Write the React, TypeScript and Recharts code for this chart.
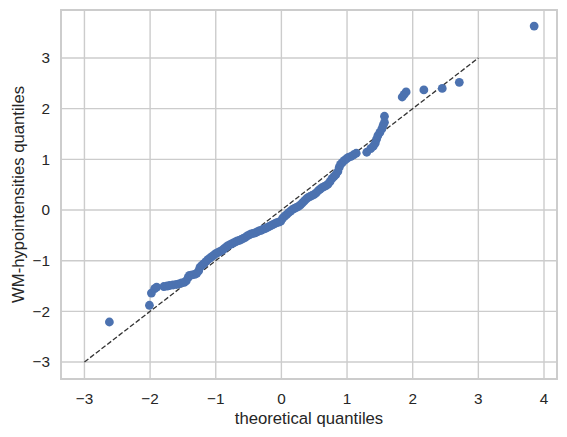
import React from "react";
import {
  ScatterChart,
  Scatter,
  XAxis,
  YAxis,
  CartesianGrid,
  ReferenceLine,
  ReferenceArea,
} from "recharts";

// theoretical normal quantiles (x) and sample quantiles (y)
const theoretical = [
  -2.62, -2.01, -1.98, -1.93, -1.9, -1.79, -1.74, -1.7, -1.65, -1.6, -1.56,
  -1.52, -1.48, -1.45, -1.42, -1.4, -1.36, -1.32, -1.29, -1.26, -1.24, -1.21,
  -1.18, -1.15, -1.12, -1.09, -1.06, -1.03, -1.0, -0.97, -0.94, -0.91, -0.88,
  -0.85, -0.82, -0.79, -0.76, -0.73, -0.7, -0.67, -0.64, -0.61, -0.58, -0.55,
  -0.52, -0.49, -0.46, -0.43, -0.4, -0.37, -0.34, -0.31, -0.28, -0.25, -0.22,
  -0.19, -0.16, -0.13, -0.1, -0.07, -0.04, -0.01, 0.02, 0.05, 0.08, 0.11, 0.14,
  0.17, 0.2, 0.23, 0.26, 0.29, 0.32, 0.35, 0.38, 0.41, 0.44, 0.47, 0.5, 0.53,
  0.56, 0.59, 0.62, 0.65, 0.68, 0.71, 0.74, 0.77, 0.8, 0.83, 0.86, 0.88, 0.9,
  0.93, 0.96, 0.99, 1.02, 1.06, 1.1, 1.14, 1.3, 1.36, 1.4, 1.43, 1.45, 1.47,
  1.5, 1.53, 1.55, 1.57, 1.57, 1.84, 1.87, 1.9, 2.17, 2.45, 2.71, 3.85,
];

const sample = [
  -2.21, -1.88, -1.64, -1.55, -1.52, -1.51, -1.5, -1.49, -1.48, -1.47, -1.46,
  -1.44, -1.43, -1.4, -1.33, -1.29, -1.28, -1.27, -1.25, -1.2, -1.13, -1.09,
  -1.06, -1.02, -0.98, -0.95, -0.92, -0.89, -0.86, -0.84, -0.82, -0.8, -0.77,
  -0.74, -0.71, -0.69, -0.67, -0.65, -0.63, -0.61, -0.6, -0.58, -0.56, -0.54,
  -0.51, -0.49, -0.47, -0.46, -0.45, -0.43, -0.41, -0.4, -0.38, -0.37, -0.35,
  -0.33, -0.31, -0.29, -0.27, -0.25, -0.24, -0.22, -0.16, -0.12, -0.09, -0.05,
  -0.02, 0.01, 0.03, 0.05, 0.07, 0.1, 0.14, 0.18, 0.22, 0.25, 0.27, 0.29, 0.31,
  0.34, 0.38, 0.41, 0.44, 0.46, 0.48, 0.51, 0.56, 0.62, 0.66, 0.7, 0.76, 0.84,
  0.9, 0.94, 0.98, 1.01, 1.04, 1.06, 1.09, 1.12, 1.14, 1.21, 1.26, 1.32, 1.4,
  1.47, 1.53, 1.6, 1.67, 1.73, 1.85, 2.23, 2.28, 2.33, 2.37, 2.4, 2.52, 3.63,
];

const xTicks = [-3, -2, -1, 0, 1, 2, 3, 4];
const yTicks = [-3, -2, -1, 0, 1, 2, 3];
const refLine = [
  { x: -3, y: -3 },
  { x: 3, y: 3 },
];

const X_DOMAIN: [number, number] = [-3.357, 4.198];
const Y_DOMAIN: [number, number] = [-3.335, 3.947];

const FONT = "'Liberation Sans', Arial, sans-serif";
const GRID = "#cccccc";
const TEXT = "#262626";

const points = theoretical.map((x, i) => ({ x, y: sample[i] }));
const fmt = (v: number) => String(v).replace("-", "\u2212");

const Dot = (props: any) => (
  <circle cx={props.cx} cy={props.cy} r={4.4} fill="#4c72b0" />
);

export default function App() {
  return (
    <div style={{ position: "absolute", left: 0, top: 0 }}>
      <ScatterChart
        width={567}
        height={437}
        margin={{ top: 10, right: 10, left: 0, bottom: 0 }}
        style={{ fontFamily: FONT }}
      >
        <CartesianGrid stroke={GRID} strokeWidth={1.4} />
        <XAxis
          type="number"
          dataKey="x"
          domain={X_DOMAIN}
          ticks={xTicks}
          allowDataOverflow
          height={58}
          axisLine={false}
          tickLine={false}
          tickSize={0}
          tickMargin={14}
          tickFormatter={fmt}
          tick={{ fill: TEXT, fontSize: 15.3 }}
          label={{
            content: () => (
              <text
                x={309}
                y={424}
                textAnchor="middle"
                fill={TEXT}
                fontSize={16.7}
                fontFamily={FONT}
              >
                theoretical quantiles
              </text>
            ),
          }}
        />
        <YAxis
          type="number"
          dataKey="y"
          domain={Y_DOMAIN}
          ticks={yTicks}
          allowDataOverflow
          width={61}
          axisLine={false}
          tickLine={false}
          tickSize={0}
          tickMargin={11}
          tickFormatter={fmt}
          tick={{ fill: TEXT, fontSize: 15.3 }}
          label={{
            content: () => (
              <text
                x={24}
                y={194.5}
                textAnchor="middle"
                fill={TEXT}
                fontSize={16.7}
                fontFamily={FONT}
                transform="rotate(-90, 24, 194.5)"
              >
                WM-hypointensities quantiles
              </text>
            ),
          }}
        />
        <ReferenceArea
          x1={X_DOMAIN[0]}
          x2={X_DOMAIN[1]}
          y1={Y_DOMAIN[0]}
          y2={Y_DOMAIN[1]}
          fill="none"
          fillOpacity={0}
          stroke={GRID}
          strokeWidth={1.9}
        />
        <Scatter data={points} shape={Dot} isAnimationActive={false} />
        <ReferenceLine
          segment={refLine}
          stroke="#333333"
          strokeWidth={1.3}
          strokeDasharray="5 2.2"
        />
      </ScatterChart>
    </div>
  );
}
